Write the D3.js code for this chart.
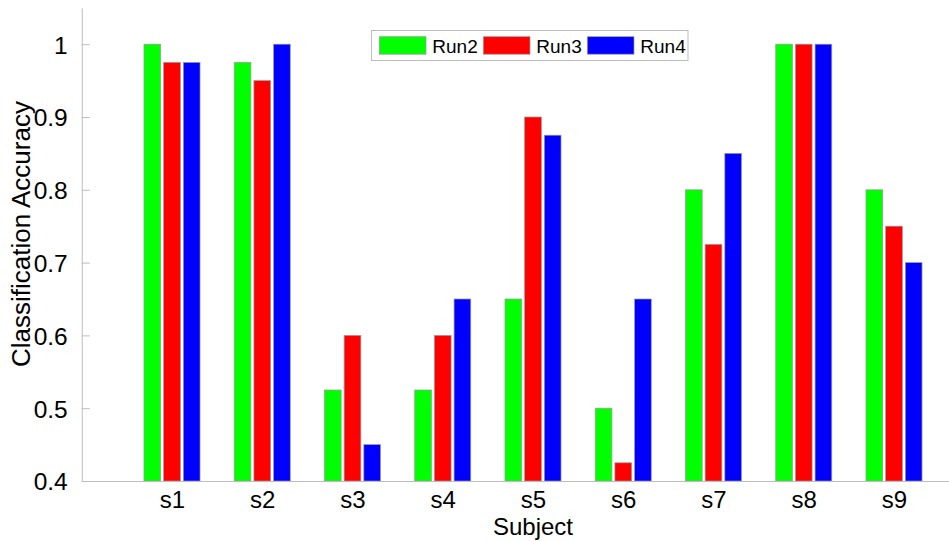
<!DOCTYPE html>
<html><head><meta charset="utf-8">
<script src="https://cdn.jsdelivr.net/npm/d3@7"></script>
<style>
body{margin:0;background:#fff;}
svg{display:block;font-family:"Liberation Sans",Arial,sans-serif;}
</style></head>
<body>
<svg id="chart" width="949" height="541"></svg>
<script>
const subjects = ["s1","s2","s3","s4","s5","s6","s7","s8","s9"];
const seriesNames = ["Run2","Run3","Run4"];
const run2 = [1.0, 0.975, 0.525, 0.525, 0.65, 0.5, 0.8, 1.0, 0.8];
const run3 = [0.975, 0.95, 0.6, 0.6, 0.9, 0.425, 0.725, 1.0, 0.75];
const run4 = [0.975, 1.0, 0.45, 0.65, 0.875, 0.65, 0.85, 1.0, 0.7];
const yTicks = [0.4, 0.5, 0.6, 0.7, 0.8, 0.9, 1];
const colors = ["#00ff00", "#ff0000", "#0000ff"];

const series = [run2, run3, run4];
const svg = d3.select("#chart");
const x = d3.scaleLinear().domain([0, 10]).range([81.75, 984.25]);
const y = d3.scaleLinear().domain([0.4, 1.05]).range([481, 7.8]);
const axisColor = "#bdbdbd";
const offsets = [-0.218, 0, 0.218];
const bw = 0.185;

// bars
series.forEach((vals, si) => {
  svg.append("g").selectAll("rect").data(vals).enter().append("rect")
    .attr("x", (d, i) => x(i + 1 + offsets[si] - bw / 2))
    .attr("width", x(bw) - x(0))
    .attr("y", d => y(d))
    .attr("height", d => y(0.4) - y(d))
    .attr("fill", colors[si])
    .attr("stroke", "#9a9a9a")
    .attr("stroke-width", 0.7);
});

// y axis
const yAxis = d3.axisLeft(y).tickValues(yTicks).tickSizeInner(-8).tickSizeOuter(0)
  .tickFormat(d => d === 1 ? "1" : d3.format(".1f")(d)).tickPadding(14);
const gy = svg.append("g").attr("transform", "translate(81.75,0)").call(yAxis);
gy.select(".domain").attr("stroke", axisColor);
gy.selectAll(".tick line").attr("stroke", axisColor);
gy.selectAll(".tick text").attr("font-size", 24.5).attr("fill", "#000")
  .attr("font-family", "'Liberation Sans',Arial,sans-serif").attr("dy", "0.36em");

// x axis
const xAxis = d3.axisBottom(x).tickValues(d3.range(1, 10)).tickSize(0)
  .tickFormat(d => subjects[d - 1]).tickPadding(10);
const gx = svg.append("g").attr("transform", "translate(0,481)").call(xAxis);
gx.select(".domain").attr("stroke", axisColor);
gx.selectAll(".tick text").attr("font-size", 24).attr("fill", "#000")
  .attr("font-family", "'Liberation Sans',Arial,sans-serif").attr("dy", "0.71em");

// axis labels
svg.append("text").attr("x", x(5)).attr("y", 535).attr("text-anchor", "middle")
  .attr("font-size", 24).text("Subject");
svg.append("text").attr("transform", "translate(30," + 234 + ") rotate(-90)")
  .attr("text-anchor", "middle").attr("font-size", 26).text("Classification Accuracy");

// legend
const lg = svg.append("g");
lg.append("rect").attr("x", 371.5).attr("y", 30.5).attr("width", 316.5).attr("height", 30)
  .attr("fill", "#fff").attr("stroke", axisColor);
seriesNames.forEach((name, i) => {
  const x0 = 379.3 + i * 104;
  lg.append("rect").attr("x", x0).attr("y", 36.7).attr("width", 46.7).attr("height", 17.5)
    .attr("fill", colors[i]).attr("stroke", "#9a9a9a").attr("stroke-width", 0.7);
  lg.append("text").attr("x", x0 + 53).attr("y", 53).attr("font-size", 19).text(name);
});
</script>
</body></html>
